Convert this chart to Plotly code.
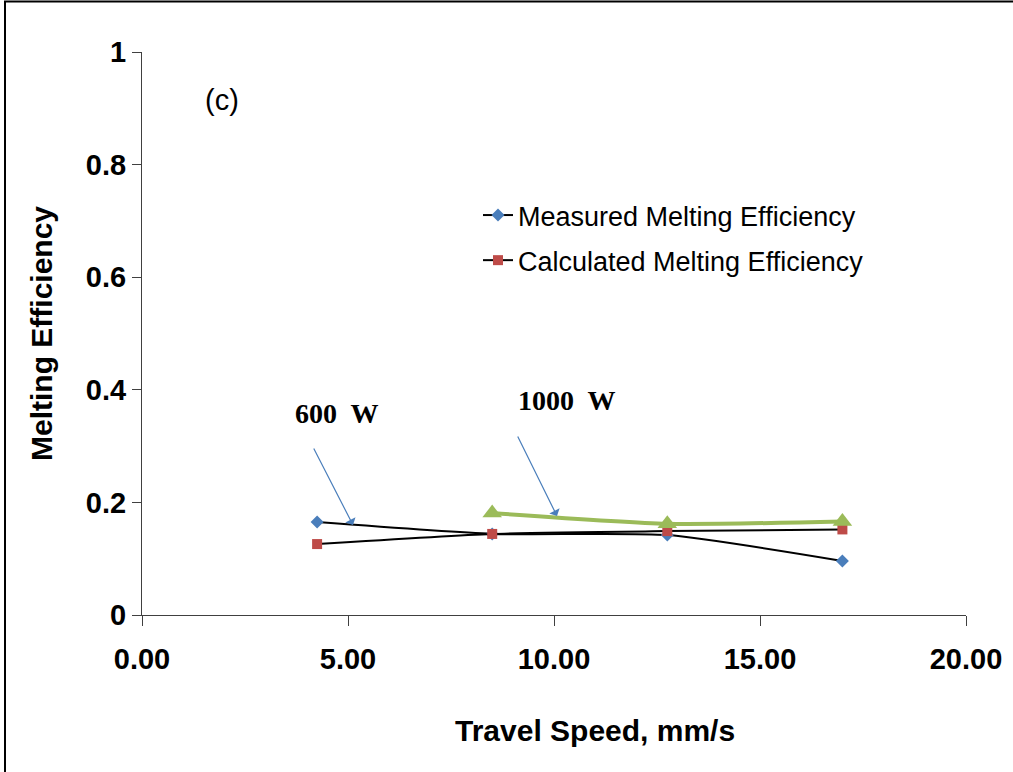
import plotly.graph_objects as go

speed = [4.25, 8.5, 12.75, 17.0]
measured = [0.165, 0.144, 0.142, 0.096]
calculated = [0.126, 0.144, 0.149, 0.152]
speed_1000 = [8.5, 12.75, 17.0]
eff_1000 = [0.181, 0.162, 0.166]

x_ticks = [0, 5, 10, 15, 20]
x_tick_text = ["0.00", "5.00", "10.00", "15.00", "20.00"]
y_ticks = [0, 0.2, 0.4, 0.6, 0.8, 1]
y_tick_text = ["0", "0.2", "0.4", "0.6", "0.8", "1"]

W, H = 1013, 772
L, R, T, B = 142, 47, 52, 157
pw, ph = W - L - R, H - T - B

def px(xp):
    return (xp - L) / pw

def py(yp):
    return (H - B - yp) / ph

fig = go.Figure()
fig.add_trace(go.Scatter(x=speed, y=measured, mode="lines+markers", name="Measured Melting Efficiency",
                         legendgroup="a",
                         line=dict(color="black", width=2, shape="spline", smoothing=0.6),
                         marker=dict(symbol="diamond", color="#4a7ebb", size=10)))
fig.add_trace(go.Scatter(x=speed, y=calculated, mode="lines+markers", name="Calculated Melting Efficiency",
                         legendgroup="b",
                         line=dict(color="black", width=2, shape="spline", smoothing=0.6),
                         marker=dict(symbol="square", color="#be4b48", size=10)))
fig.add_trace(go.Scatter(x=speed_1000, y=eff_1000, mode="lines+markers", name="1000 W", showlegend=False,
                         line=dict(color="#9bbb59", width=4, shape="spline", smoothing=0.6),
                         marker=dict(symbol="triangle-up", color="#9bbb59", size=17)))

axis_font = dict(family="Liberation Sans, Arial", size=30, color="black")
tick_font = dict(family="Liberation Sans, Arial", size=29, color="black", weight="bold")
fig.update_xaxes(range=[0, 20], tickvals=x_ticks, ticktext=x_tick_text, showline=True, linecolor="#404040",
                 linewidth=1, ticks="outside", ticklen=10, tickcolor="#404040", showgrid=False, zeroline=False,
                 tickfont=tick_font, ticklabelstandoff=8)
fig.update_yaxes(range=[0, 1], tickvals=y_ticks, ticktext=y_tick_text, showline=True, linecolor="#404040",
                 linewidth=1, ticks="outside", ticklen=9, tickcolor="#404040", showgrid=False, zeroline=False,
                 tickfont=tick_font,
                 title=dict(text="<b>Melting Efficiency</b>", font=axis_font, standoff=24))

fig.update_layout(
    width=W, height=H, margin=dict(l=L, r=R, t=T, b=B),
    paper_bgcolor="white", plot_bgcolor="white",
    legend=dict(x=px(478), y=py(191), xanchor="left", yanchor="top", bgcolor="rgba(0,0,0,0)",
                font=dict(family="Liberation Sans, Arial", size=27, color="black"), tracegroupgap=7,
                itemwidth=30),
    showlegend=True,
)

fig.add_annotation(x=px(595), y=py(730), xref="paper", yref="paper", text="<b>Travel Speed, mm/s</b>",
                   showarrow=False, xanchor="center", yanchor="middle", font=axis_font)
fig.add_annotation(x=px(222), y=py(100), xref="paper", yref="paper", text="(c)", showarrow=False,
                   xanchor="center", yanchor="middle",
                   font=dict(family="Liberation Sans, Arial", size=29, color="black"))
serif = dict(family="Liberation Serif, Times New Roman", size=28, color="black")
fig.add_annotation(x=px(337), y=py(413), xref="paper", yref="paper", text="<b>600  W</b>", showarrow=False,
                   xanchor="center", yanchor="middle", font=serif)
fig.add_annotation(x=px(567), y=py(400), xref="paper", yref="paper", text="<b>1000  W</b>", showarrow=False,
                   xanchor="center", yanchor="middle", font=serif)
for (x0, y0, x1, y1) in [(313, 447, 353, 525), (517, 435, 557, 516)]:
    fig.add_annotation(x=px(x1), y=py(y1), xref="paper", yref="paper", ax=x0 - x1, ay=y0 - y1,
                       axref="pixel", ayref="pixel", text="", showarrow=True, arrowhead=1, arrowsize=1.6,
                       arrowwidth=1.2, arrowcolor="#4a7ebb")

fig.add_shape(type="rect", xref="paper", yref="paper", x0=px(5), x1=px(1030), y0=py(1.5), y1=py(790),
              line=dict(color="black", width=2), layer="below")

fig.write_html("out.html")
